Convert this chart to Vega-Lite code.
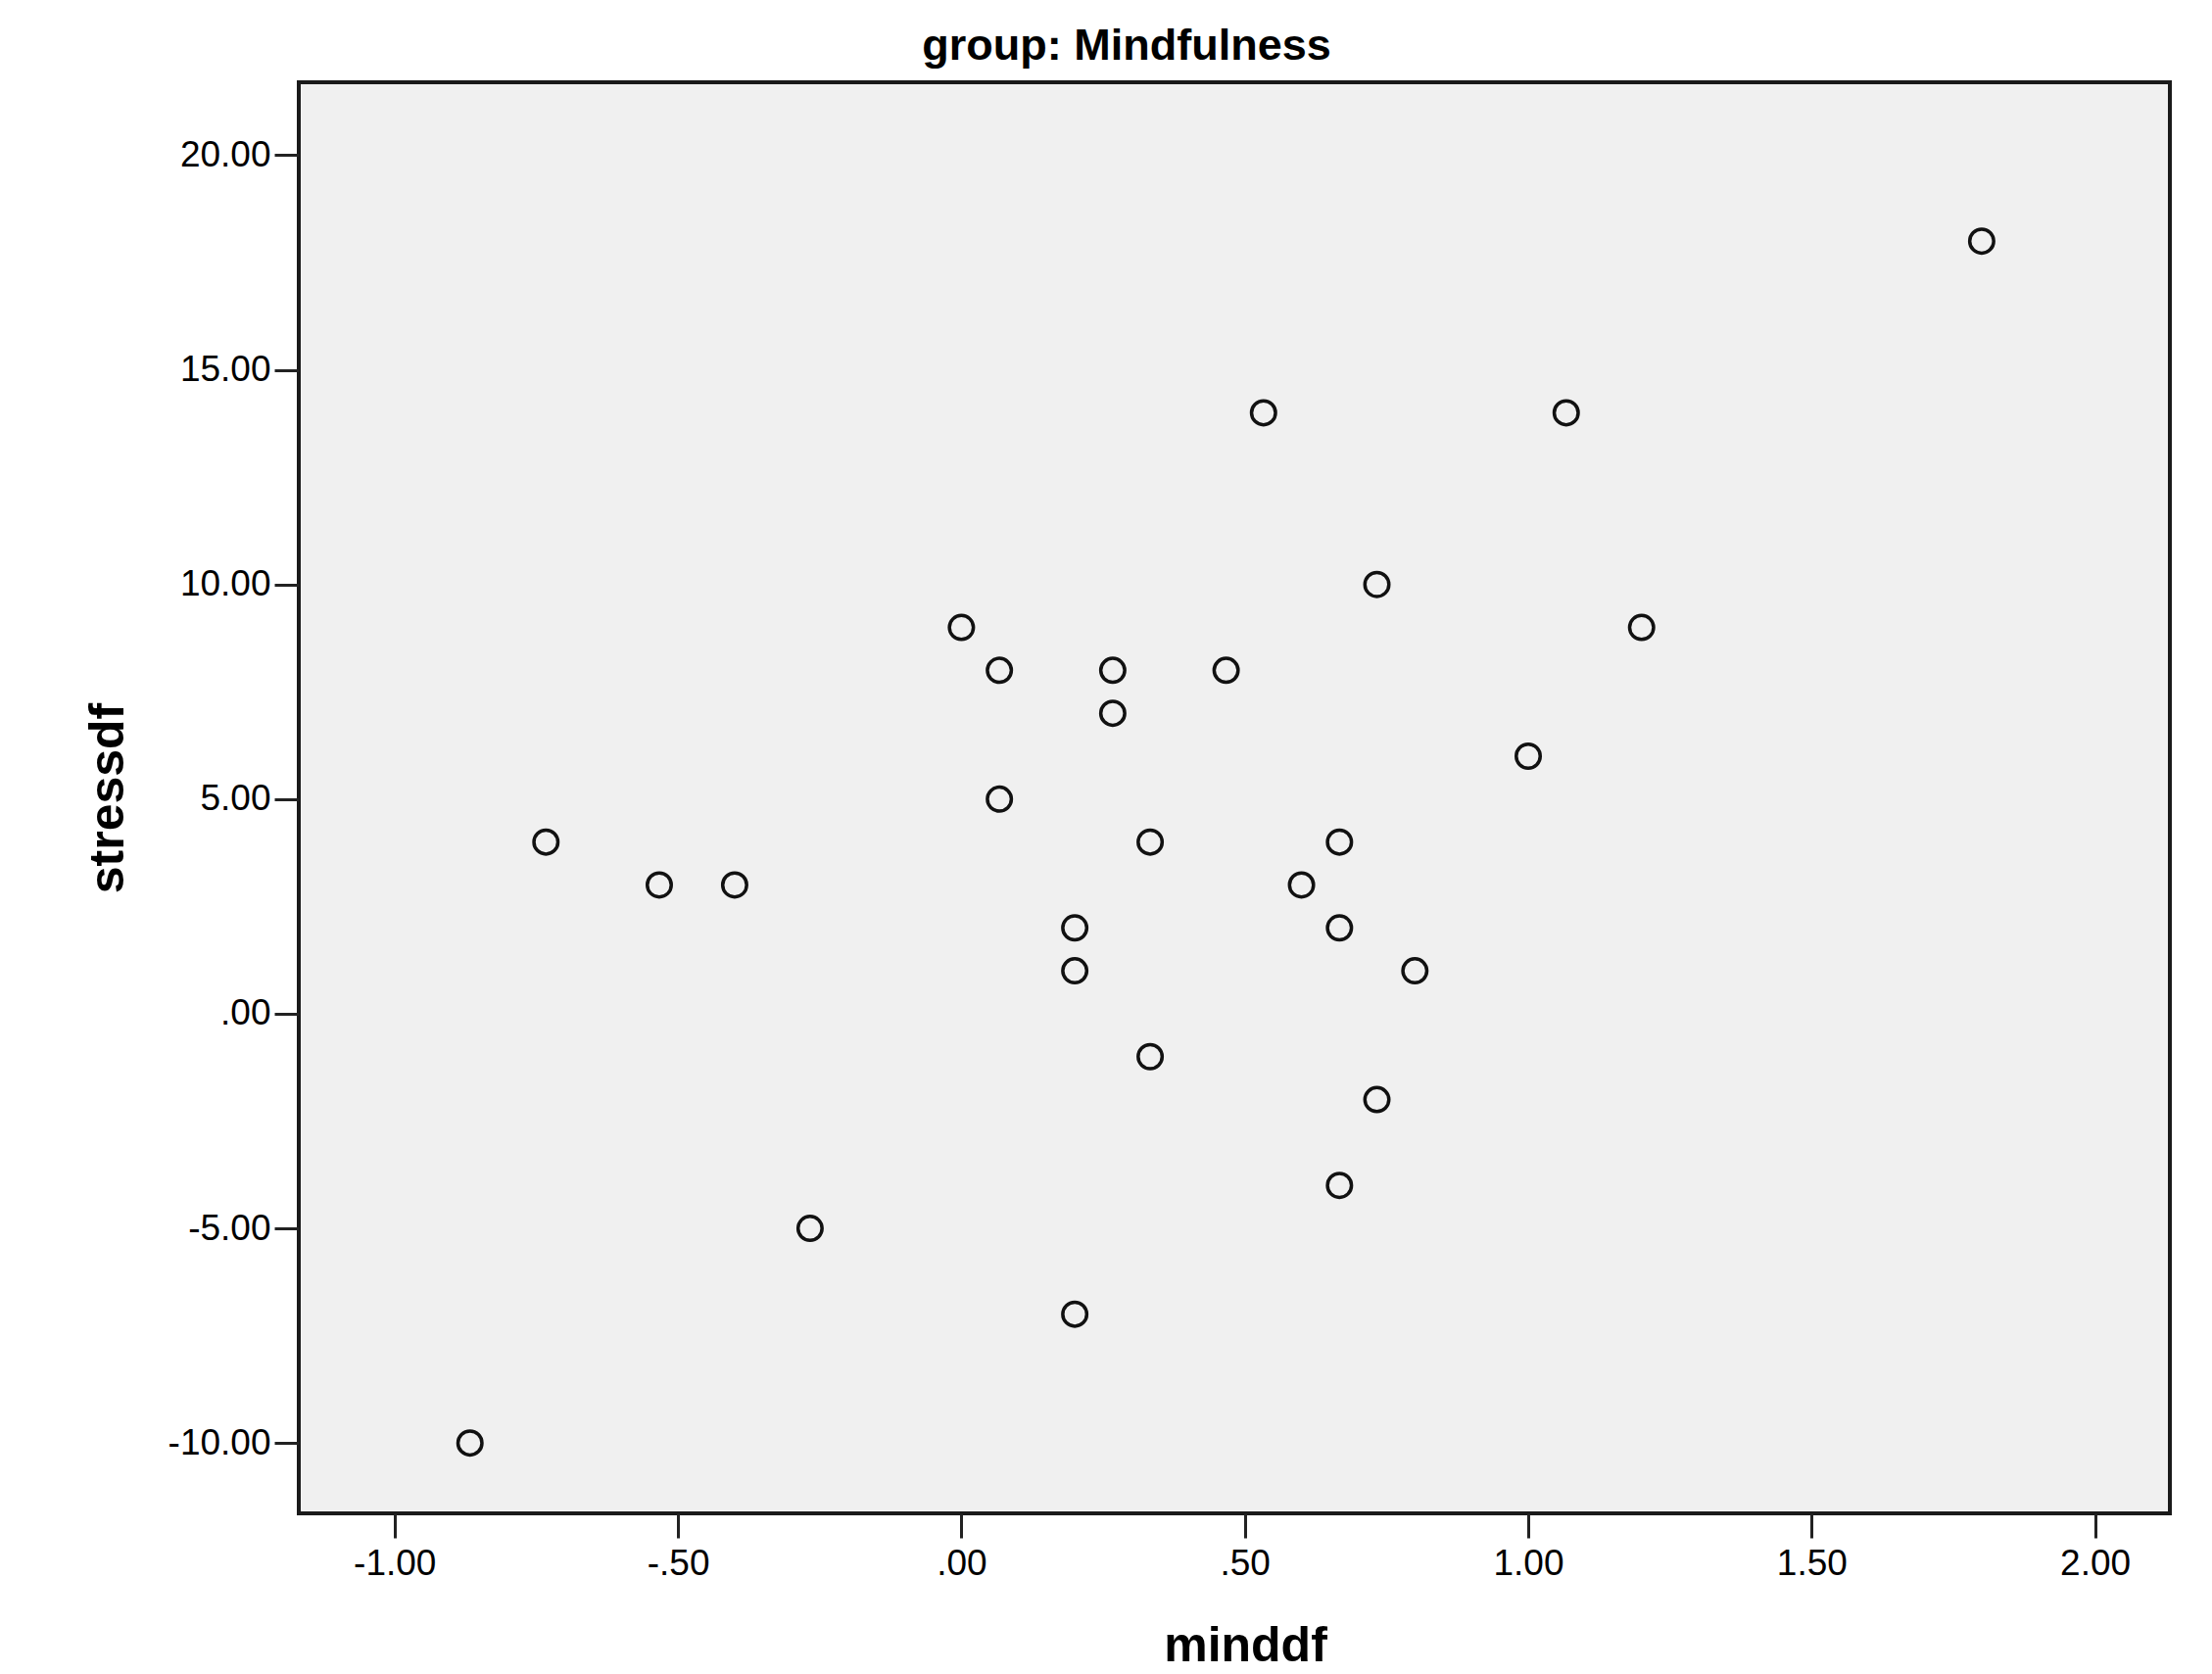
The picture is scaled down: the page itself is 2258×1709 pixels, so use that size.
{
  "$schema": "https://vega.github.io/schema/vega-lite/v6.json",
  "autosize": "none",
  "width": 1910,
  "height": 1461,
  "padding": {"left": 305, "top": 84, "right": 43, "bottom": 164},
  "background": "#ffffff",
  "title": {
    "text": "group: Mindfulness",
    "font": "Liberation Sans",
    "fontSize": 45,
    "fontWeight": "bold",
    "color": "#000000",
    "anchor": "middle",
    "frame": "bounds",
    "baseline": "bottom",
    "offset": 12,
    "dy": 43
  },
  "config": {
    "view": {"fill": "#f0f0f0", "stroke": "#1a1a1a", "strokeWidth": 4},
    "axis": {
      "domain": false,
      "grid": false,
      "ticks": true,
      "tickColor": "#222222",
      "tickWidth": 3,
      "tickSize": 25,
      "labelFont": "Liberation Sans",
      "labelFontSize": 37,
      "labelColor": "#000000",
      "titleFont": "Liberation Sans",
      "titleFontSize": 50,
      "titleFontWeight": "bold",
      "titleColor": "#000000"
    }
  },
  "data": {
    "values": [
      {"minddf": 1.8, "stressdf": 18},
      {"minddf": 0.533, "stressdf": 14},
      {"minddf": 1.067, "stressdf": 14},
      {"minddf": 0.733, "stressdf": 10},
      {"minddf": 0.0, "stressdf": 9},
      {"minddf": 1.2, "stressdf": 9},
      {"minddf": 0.067, "stressdf": 8},
      {"minddf": 0.267, "stressdf": 8},
      {"minddf": 0.467, "stressdf": 8},
      {"minddf": 0.267, "stressdf": 7},
      {"minddf": 1.0, "stressdf": 6},
      {"minddf": 0.067, "stressdf": 5},
      {"minddf": -0.733, "stressdf": 4},
      {"minddf": 0.333, "stressdf": 4},
      {"minddf": 0.667, "stressdf": 4},
      {"minddf": -0.533, "stressdf": 3},
      {"minddf": -0.4, "stressdf": 3},
      {"minddf": 0.6, "stressdf": 3},
      {"minddf": 0.2, "stressdf": 2},
      {"minddf": 0.667, "stressdf": 2},
      {"minddf": 0.2, "stressdf": 1},
      {"minddf": 0.8, "stressdf": 1},
      {"minddf": 0.333, "stressdf": -1},
      {"minddf": 0.733, "stressdf": -2},
      {"minddf": 0.667, "stressdf": -4},
      {"minddf": -0.267, "stressdf": -5},
      {"minddf": 0.2, "stressdf": -7},
      {"minddf": -0.867, "stressdf": -10}
    ]
  },
  "mark": {"type": "point", "shape": "circle", "filled": false, "size": 600, "stroke": "#111111", "strokeWidth": 3.5, "opacity": 1},
  "encoding": {
    "x": {
      "field": "minddf",
      "type": "quantitative",
      "title": "minddf",
      "scale": {"domain": [-1.169, 2.132], "nice": false, "zero": false},
      "axis": {
        "values": [-1, -0.5, 0, 0.5, 1, 1.5, 2],
        "labelExpr": "(datum.value < 0 ? '-' : '') + replace(format(abs(datum.value), '.2f'), regexp('^0'), '')",
        "labelPadding": 8,
        "titlePadding": 41,
        "titleX": 966
      }
    },
    "y": {
      "field": "stressdf",
      "type": "quantitative",
      "title": "stressdf",
      "scale": {"domain": [-11.64, 21.7], "nice": false, "zero": false},
      "axis": {
        "values": [-10, -5, 0, 5, 10, 15, 20],
        "labelExpr": "(datum.value < 0 ? '-' : '') + replace(format(abs(datum.value), '.2f'), regexp('^0'), '')",
        "labelPadding": 4,
        "titlePadding": 36
      }
    }
  }
}
